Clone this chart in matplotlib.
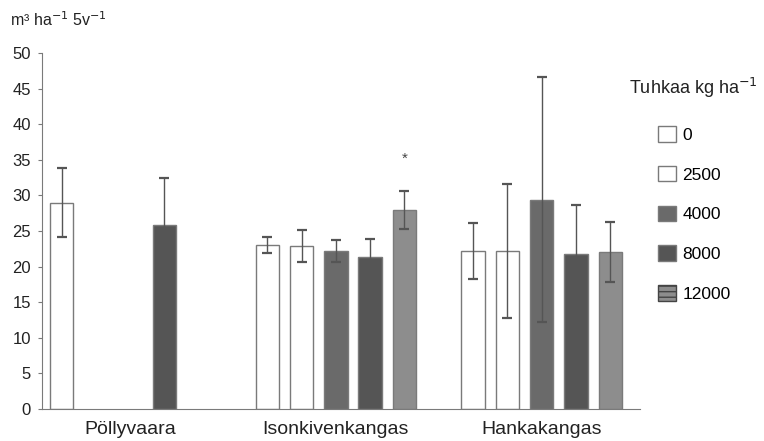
import numpy as np
import matplotlib.pyplot as plt
from matplotlib.patches import Patch

plt.rcParams['font.family'] = ['Liberation Sans', 'DejaVu Sans']

# data
kohteet = ["Pöllyvaara", "Isonkivenkangas", "Hankakangas"]
tasot = ["0", "2500", "4000", "8000", "12000"]
# NaN = ei käsittelyä
arvot = [
    [29.0, np.nan, np.nan, 25.9, np.nan],
    [23.0, 22.9, 22.2, 21.3, 27.9],
    [22.2, 22.2, 29.4, 21.8, 22.1],
]
virheet = [
    [4.85, np.nan, np.nan, 6.6, np.nan],
    [1.15, 2.25, 1.6, 2.6, 2.65],
    [3.9, 9.45, 17.2, 6.9, 4.2],
]
tahti_kohde = 1   # merkitsevä ero
tahti_taso = 4
tahti_y = 35.2

varit = ["white", "white", "#6a6a6a", "#555555", "#8d8d8d"]
reuna = "#7a7a7a"

fig = plt.figure(figsize=(7.64, 4.41), dpi=100)
ax = fig.add_axes([42/764, 1-409/441, (640-42)/764, (409-53)/441])

leveys = 0.68
for g in range(len(kohteet)):
    for i in range(len(tasot)):
        v = arvot[g][i]
        if np.isnan(v):
            continue
        x = g*6 + i
        ax.bar(x, v, width=leveys, color=varit[i], edgecolor=reuna, linewidth=1.0, zorder=2)
        ax.errorbar(x, v, yerr=virheet[g][i], fmt="none", ecolor="#555555",
                    elinewidth=1.0, capsize=3.5, capthick=1.6, zorder=3)

ax.text(tahti_kohde*6 + tahti_taso, tahti_y, "*", ha="center", va="center",
        fontsize=11, color="#444444")

ax.set_xlim(-0.57, 16.87)
ax.set_ylim(0, 50)
ax.set_yticks(range(0, 51, 5))
ax.set_xticks([2, 8, 14])
ax.set_xticklabels(kohteet, fontsize=14, color="#222222")
ax.tick_params(axis="x", length=0, pad=9)
ax.tick_params(axis="y", length=3, color=reuna, labelsize=12, labelcolor="#222222", pad=5)
for s in ["top", "right"]:
    ax.spines[s].set_visible(False)
for s in ["left", "bottom"]:
    ax.spines[s].set_color(reuna)

fig.text(10/764, 1-20/441, "m³ ha$^{-1}$ 5v$^{-1}$", fontsize=11.5, color="#222222", va="center")
fig.text(629/764, 1-88/441, "Tuhkaa kg ha$^{-1}$", fontsize=13, color="#222222", va="center")

kahvat = []
for i in range(len(tasot)):
    if i == 4:
        kahvat.append(Patch(facecolor=varit[i], edgecolor="#444444", hatch="---", label=tasot[i]))
    else:
        kahvat.append(Patch(facecolor=varit[i], edgecolor=reuna, label=tasot[i]))
fig.legend(handles=kahvat, loc="upper left", bbox_to_anchor=(658/764, 1-126/441),
           frameon=False, fontsize=12.5, labelspacing=1.33, handlelength=1.05,
           handleheight=1.0, handletextpad=0.35, borderpad=0, borderaxespad=0)

plt.savefig("out.png", dpi=100)
